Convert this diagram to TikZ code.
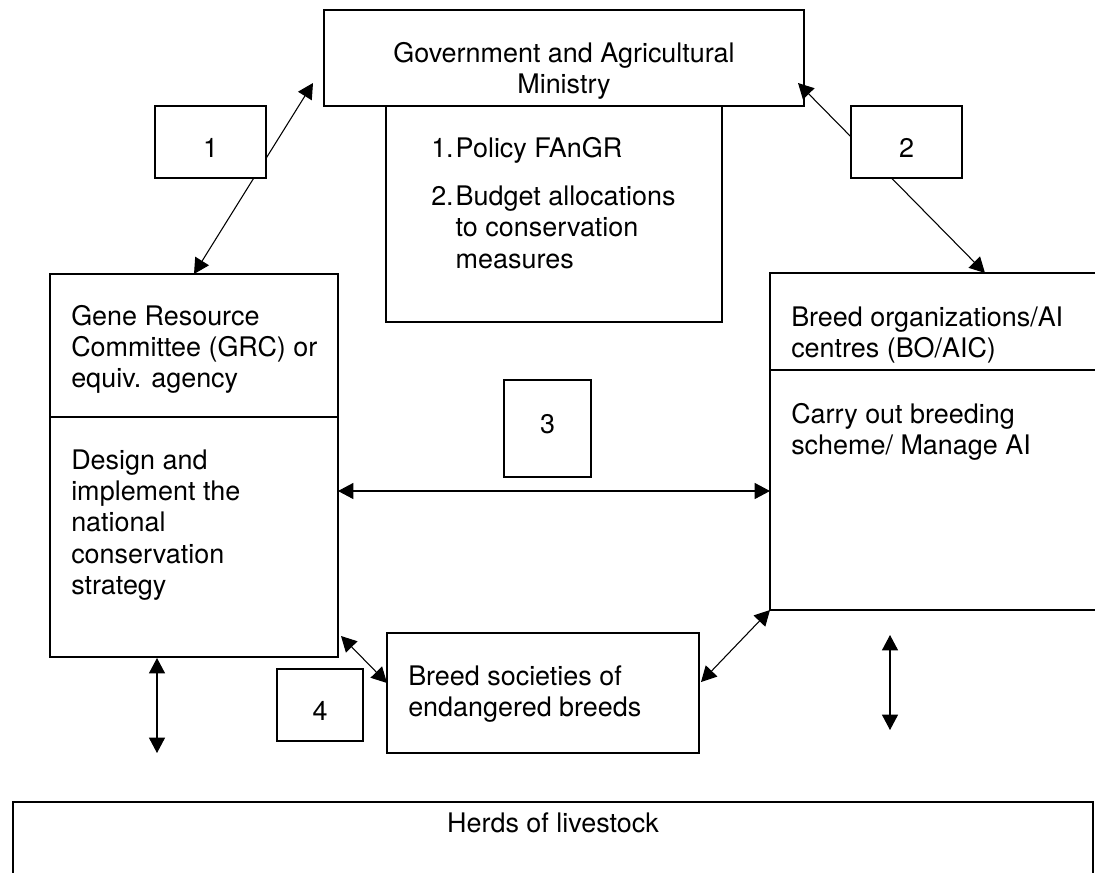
\documentclass[tikz,border=0pt]{standalone}
\usepackage{fontspec}
\setmainfont{TeX Gyre Heros}
\usetikzlibrary{arrows.meta,calc}
\newcommand{\boxlines}[1]{\begin{tabular}[t]{@{}l@{}}#1\end{tabular}}

\begin{document}
\begin{tikzpicture}[x=0.75pt,y=-0.75pt,
        every node/.style={font=\fontsize{20.2pt}{23.5pt}\selectfont},
        >={Triangle[length=11.5pt,width=12pt]},
        box/.style={draw,line width=1pt,inner sep=0pt,outer sep=0pt},
        numbox/.style={box,fill=white,minimum width=83.25pt,minimum height=54pt,text height=22.5pt,text depth=0pt},
        txt/.style={anchor=base west,inner sep=0pt},
        link/.style={<->,line width=0.8pt}]
        \useasboundingbox (0,0) rectangle (1095,872);
        \clip (0,0) rectangle (1095,872);

        % boxes
        \node[box,minimum width=360pt,minimum height=72pt] (gov) at (564,58) {};
        \node[box,minimum width=252pt,minimum height=162pt] (pol) at (554,214) {};
        \node[box,minimum width=216pt,minimum height=287.25pt] (grc) at (194,465.5) {};
        \node[box,minimum width=322.5pt,minimum height=252.75pt] (bo) at (985,441.5) {};
        \node[box,minimum width=234pt,minimum height=90pt] (bs) at (543,693) {};
        \node[box,minimum width=810pt,minimum height=111pt] (herds) at (553,876) {};
        \draw[line width=1pt] ($(grc.north west)+(0,143)$) -- ($(grc.north east)+(0,143)$);
        \draw[line width=1pt] ($(bo.north west)+(0,97)$) -- ($(bo.north east)+(0,97)$);

        % texts
        \node[anchor=base,inner sep=0pt] (govtxt) at ($(gov.north)+(0,52)$)
            {\begin{tabular}[t]{@{}c@{}}Government and Agricultural\\Ministry\end{tabular}};
        \node[txt] (poltxt) at ($(pol.north west)+(45,51)$)
            {\begin{tabular}[t]{@{}l@{\hspace{1.5pt}}l@{}}1.&Policy FAnGR\\[12.75pt]2.&Budget allocations\\&to conservation\\&measures\end{tabular}};
        \node[txt] (grcname) at ($(grc.north west)+(21,51)$) {\boxlines{Gene Resource\\Committee (GRC) or\\equiv. agency}};
        \node[txt] (grctask) at ($(grc.north west)+(21,195)$) {\boxlines{Design and\\implement the\\national\\conservation\\strategy}};
        \node[txt] (boname) at ($(bo.north west)+(21,53)$) {\boxlines{Breed organizations/AI\\centres (BO/AIC)}};
        \node[txt] (botask) at ($(bo.north west)+(21,150)$) {\boxlines{Carry out breeding\\scheme/ Manage AI}};
        \node[txt] (bstxt) at ($(bs.north west)+(21,52)$) {\boxlines{Breed societies of\\endangered breeds}};
        \node[anchor=base,inner sep=0pt] (herdstxt) at ($(herds.north)+(0,30)$) {Herds of livestock};

        % connectors
        \coordinate (row3) at ($(grc.east)+(0,25.5)$);
        \coordinate (lt) at ($(grc.south west)+(107,1)$);
        \coordinate (lb) at ($(lt)+(0,95)$);
        \coordinate (rt) at ($(bo.south west)+(120,25)$);
        \coordinate (rb) at ($(rt)+(0,95)$);
        \draw[link] (grc.north) -- ($(gov.west)+(-11,25)$);
        \draw[link] ($(gov.south east)+(-6,-23)$) -- (bo.north);
        \draw[link] (row3) -- (row3 -| bo.west);
        \draw[link] ($(grc.south east)+(3,-21)$) -- ($(bs.west)+(0,-10)$);
        \draw[link] ($(bs.east)+(2,-11)$) -- (bo.south west);
        \draw[link] (lt) -- (lb);
        \draw[link] (rt) -- (rb);

        % numbered boxes
        \node[numbox] (n1) at (210.5,142) {1};
        \node[numbox] (n2) at (906.5,142) {2};
        \node[numbox,minimum width=65.25pt,minimum height=72.75pt,text height=14.25pt,text depth=6.75pt] (n3) at (547.5,428.5) {3};
        \node[numbox,minimum width=64.5pt] (n4) at (320,705) {4};
\end{tikzpicture}
\end{document}
